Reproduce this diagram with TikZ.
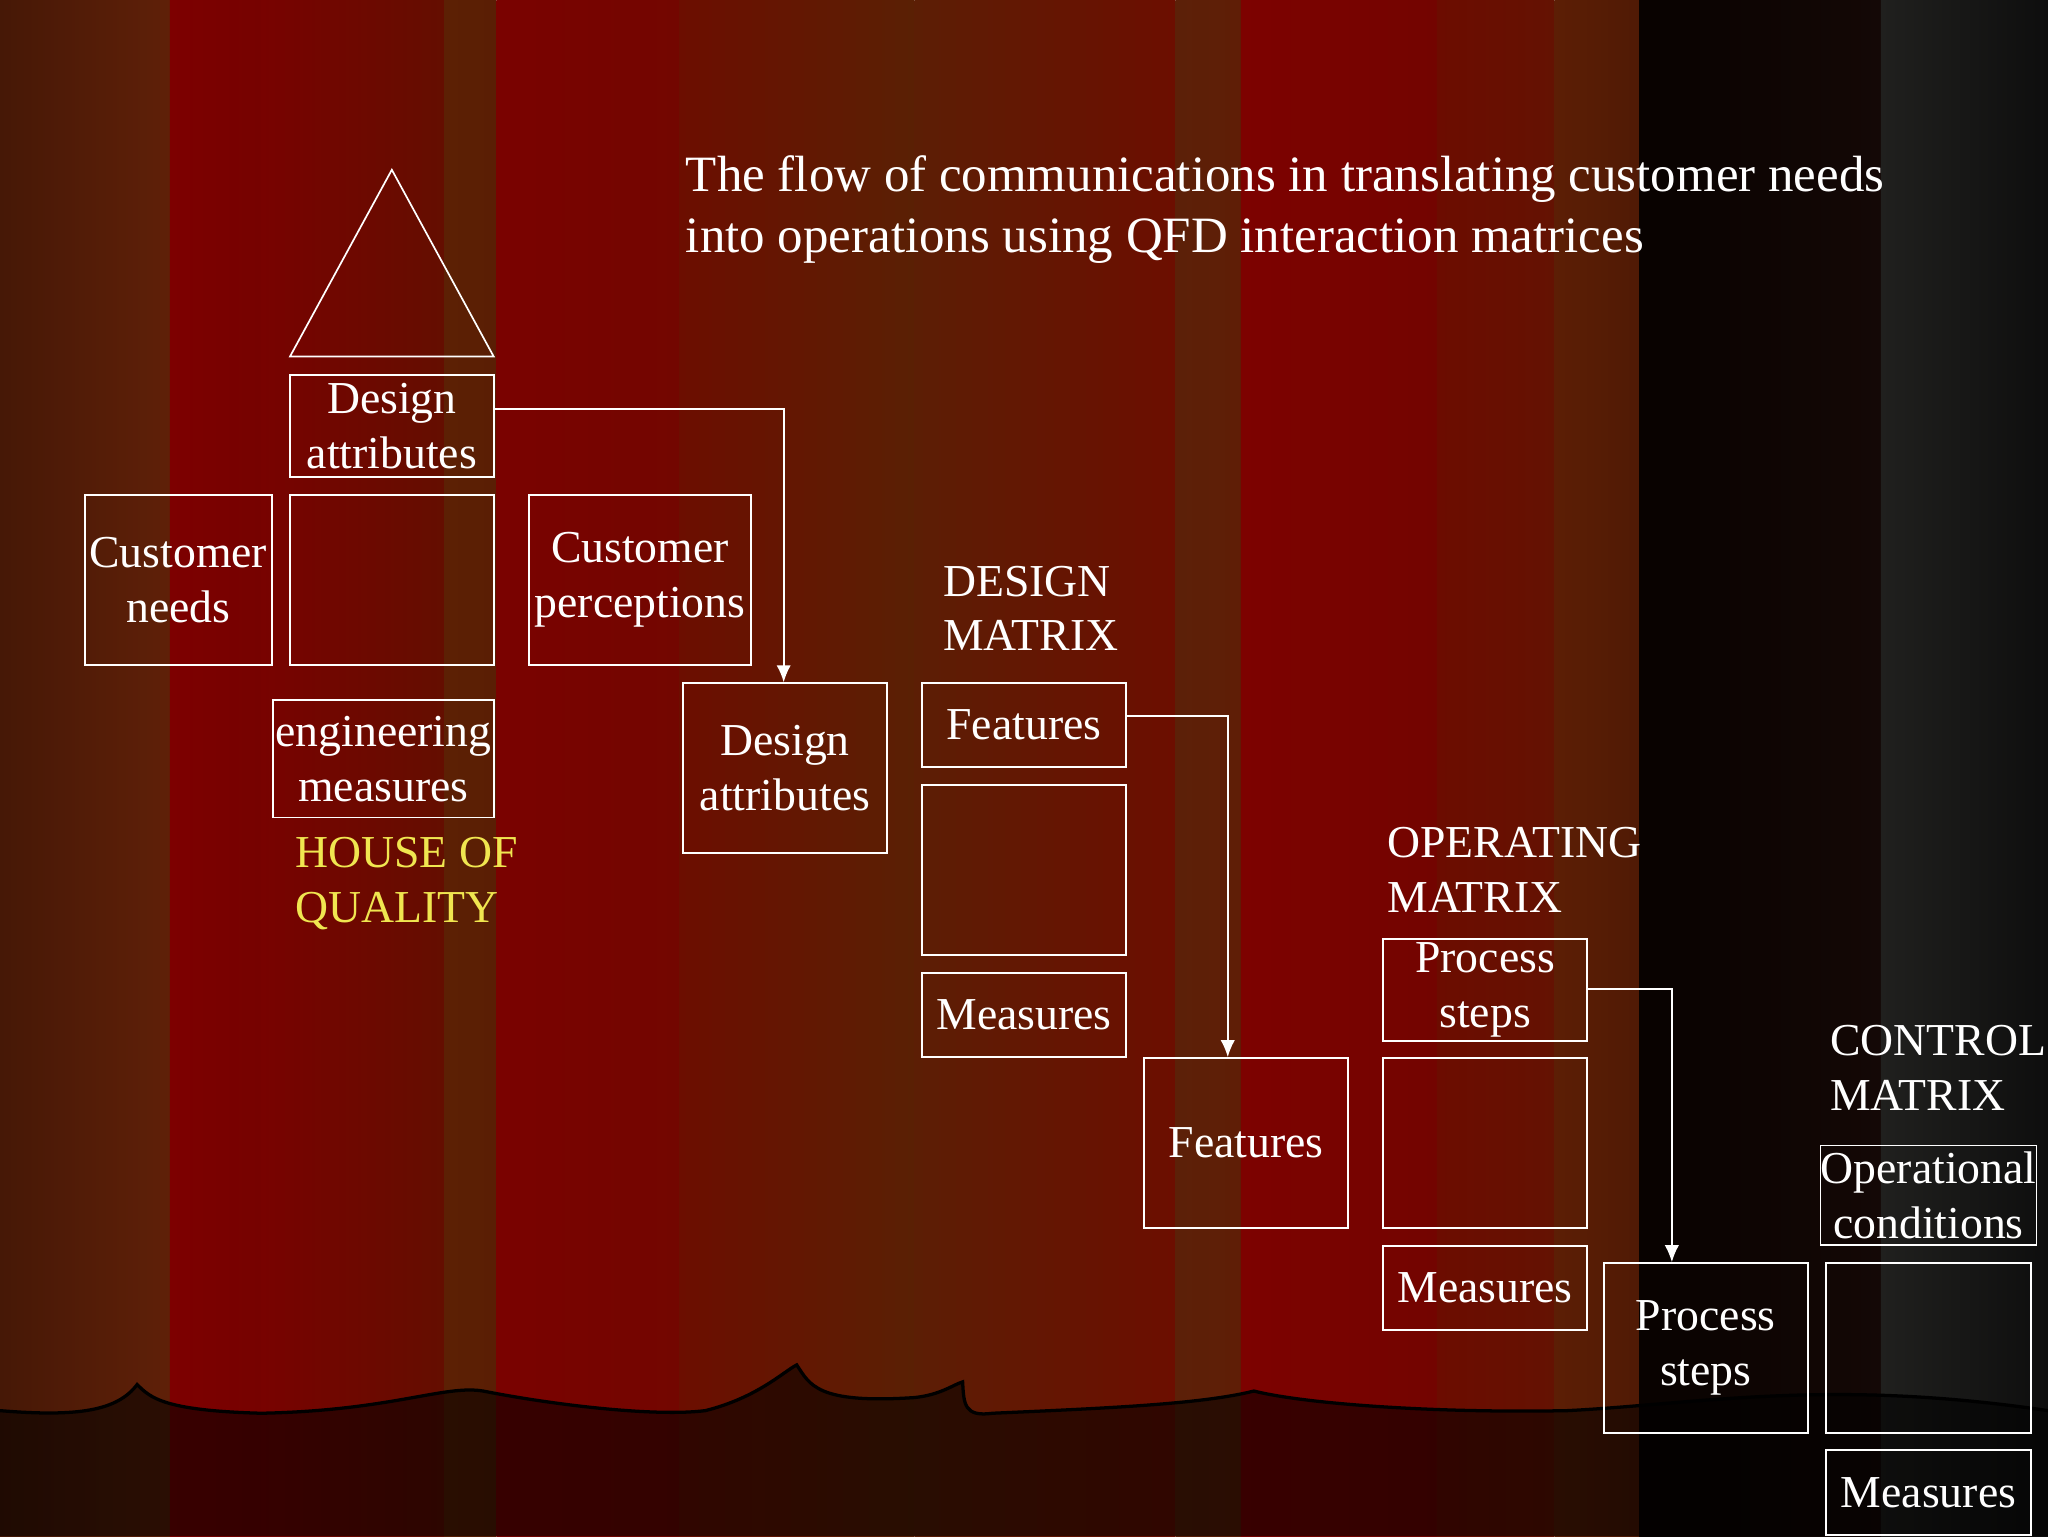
\documentclass[tikz,border=0pt]{standalone}
\usepackage{fontspec}
\setmainfont{Liberation Serif}
\usetikzlibrary{arrows.meta}
\begin{document}
\begin{tikzpicture}[x=1pt,y=-1pt,
 bx/.style={draw=white,line width=1.3pt,text=white,align=center,inner sep=0pt,font=\fontsize{35}{42}\selectfont},
 lbl/.style={text=white,anchor=north west,align=left,inner sep=0pt,font=\fontsize{35}{42}\selectfont},
 arr/.style={draw=white,line width=1.3pt,-{Latex[length=13pt,width=11pt]}}]
\useasboundingbox (0,0) rectangle (1568,1176);
% background curtain
\shade[left color={rgb,255:red,70;green,24;blue,6},right color={rgb,255:red,95;green,32;blue,8}] (0,0) rectangle (130,1176);
\shade[left color={rgb,255:red,125;green,0;blue,0},right color={rgb,255:red,118;green,2;blue,0}] (130,0) rectangle (200,1176);
\shade[left color={rgb,255:red,120;green,2;blue,0},right color={rgb,255:red,100;green,14;blue,0}] (200,0) rectangle (340,1176);
\shade[left color={rgb,255:red,92;green,32;blue,4},right color={rgb,255:red,90;green,30;blue,4}] (340,0) rectangle (380,1176);
\shade[left color={rgb,255:red,122;green,2;blue,0},right color={rgb,255:red,115;green,6;blue,0}] (380,0) rectangle (520,1176);
\shade[left color={rgb,255:red,108;green,14;blue,0},right color={rgb,255:red,90;green,32;blue,4}] (520,0) rectangle (700,1176);
\shade[left color={rgb,255:red,92;green,30;blue,5},right color={rgb,255:red,108;green,14;blue,0}] (700,0) rectangle (900,1176);
\shade[left color={rgb,255:red,92;green,32;blue,8},right color={rgb,255:red,95;green,30;blue,6}] (900,0) rectangle (950,1176);
\shade[left color={rgb,255:red,125;green,2;blue,0},right color={rgb,255:red,115;green,4;blue,0}] (950,0) rectangle (1100,1176);
\shade[left color={rgb,255:red,108;green,12;blue,0},right color={rgb,255:red,100;green,18;blue,2}] (1100,0) rectangle (1190,1176);
\shade[left color={rgb,255:red,92;green,30;blue,5},right color={rgb,255:red,80;green,26;blue,5}] (1190,0) rectangle (1255,1176);
\shade[left color={rgb,255:red,8;green,2;blue,0},right color={rgb,255:red,20;green,8;blue,6}] (1255,0) rectangle (1440,1176);
\shade[left color={rgb,255:red,32;green,32;blue,30},right color={rgb,255:red,14;green,14;blue,14}] (1440,0) rectangle (1568,1176);
% floor
\fill[black,opacity=0.55] (0,1080) .. controls (60,1085) and (90,1080) .. (105,1060) .. controls (115,1070) and (125,1080) .. (200,1082) .. controls (300,1080) and (340,1060) .. (370,1065) .. controls (420,1075) and (500,1085) .. (540,1080) .. controls (580,1070) and (600,1050) .. (610,1045) .. controls (620,1060) and (625,1075) .. (700,1070) .. controls (720,1068) and (730,1060) .. (737,1058) .. controls (738,1075) and (738,1085) .. (760,1082) .. controls (850,1078) and (920,1075) .. (960,1065) .. controls (1000,1075) and (1100,1082) .. (1200,1080) .. controls (1300,1075) and (1400,1055) .. (1568,1080) -- (1568,1176) -- (0,1176) -- cycle;
\draw[black,line width=2.5pt] (0,1080) .. controls (60,1085) and (90,1080) .. (105,1060) .. controls (115,1070) and (125,1080) .. (200,1082) .. controls (300,1080) and (340,1060) .. (370,1065) .. controls (420,1075) and (500,1085) .. (540,1080) .. controls (580,1070) and (600,1050) .. (610,1045) .. controls (620,1060) and (625,1075) .. (700,1070) .. controls (720,1068) and (730,1060) .. (737,1058) .. controls (738,1075) and (738,1085) .. (760,1082) .. controls (850,1078) and (920,1075) .. (960,1065) .. controls (1000,1075) and (1100,1082) .. (1200,1080) .. controls (1300,1075) and (1400,1055) .. (1568,1080);
% title
\node[lbl,font=\fontsize{39}{47}\selectfont] (title) at (525,119) {The flow of communications in translating customer needs\\into operations using QFD interaction matrices};
% house of quality
\draw[white,line width=1.3pt] (300,130) -- (378,273) -- (222,273) -- cycle;
\node[bx,minimum width=156,minimum height=78] (da1) at (300,326) {Design\\attributes};
\node[bx,minimum width=143,minimum height=130] (cn) at (136.5,444) {Customer\\needs};
\node[bx,minimum width=156,minimum height=130] (hm) at (300,444) {};
\node[bx,minimum width=170,minimum height=130] (cp) at (490,444) {Customer\\perceptions};
\node[bx,minimum width=169,minimum height=90] (em) at (293.5,581) {engineering\\measures};
\node[lbl,text={rgb,255:red,240;green,230;blue,80}] (hq) at (226,641) {HOUSE OF\\QUALITY};
% design matrix
\node[bx,minimum width=156,minimum height=130] (da2) at (601,588) {Design\\attributes};
\node[lbl] (dm) at (722,433) {DESIGN\\MATRIX};
\node[bx,minimum width=156,minimum height=64] (f1) at (784,555) {Features};
\node[bx,minimum width=156,minimum height=130] (dmm) at (784,666) {};
\node[bx,minimum width=156,minimum height=64] (m1) at (784,777) {Measures};
% operating matrix
\node[bx,minimum width=156,minimum height=130] (f2) at (954,875) {Features};
\node[lbl] (om) at (1062,633) {OPERATING\\MATRIX};
\node[bx,minimum width=156,minimum height=78] (ps1) at (1137,758) {Process\\steps};
\node[bx,minimum width=156,minimum height=130] (omm) at (1137,875) {};
\node[bx,minimum width=156,minimum height=64] (m2) at (1137,986) {Measures};
% control matrix
\node[bx,minimum width=156,minimum height=130] (ps2) at (1306,1032) {Process\\steps};
\node[lbl] (cm) at (1401,785) {CONTROL\\MATRIX};
\node[bx,minimum width=157,minimum height=76] (oc) at (1476.5,915) {Operational\\conditions};
\node[bx,minimum width=157,minimum height=130] (cmm) at (1476.5,1032) {};
\node[bx,minimum width=157,minimum height=65] (m3) at (1476.5,1142.5) {Measures};
% arrows
\draw[arr] (da1.east |- 0,313) -- (600,313) -- (da2.north -| 600,0);
\draw[arr] (f1.east |- 0,548) -- (940,548) -- (f2.north -| 940,0);
\draw[arr] (ps1.east |- 0,757) -- (1280,757) -- (ps2.north -| 1280,0);
\end{tikzpicture}
\end{document}
